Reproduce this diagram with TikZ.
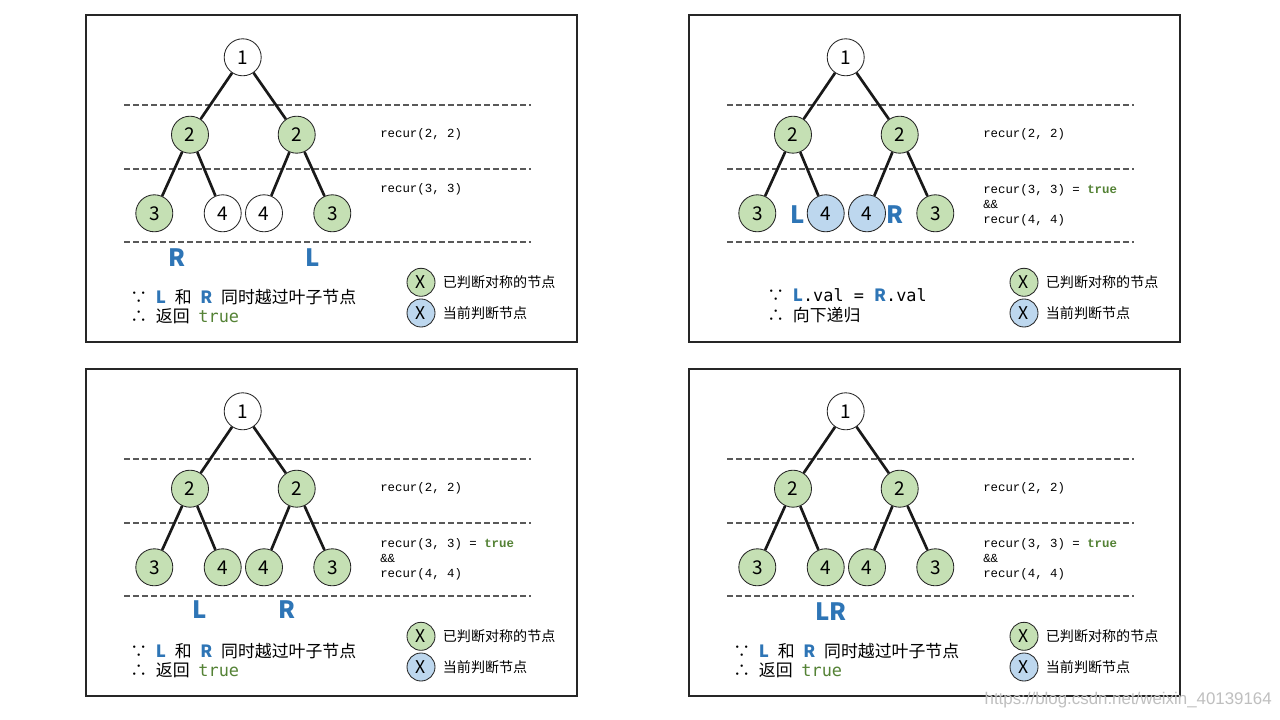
\documentclass[tikz,border=0pt]{standalone}
\usepackage{fontspec}
\usetikzlibrary{positioning}
\newfontfamily\cjk{Noto Sans CJK SC}
\newfontfamily\codefont{Liberation Mono}
\newfontfamily\valfont{DejaVu Sans Mono}
\newfontfamily\markfont{Liberation Sans}
\definecolor{donegreen}{HTML}{C5E0B4}
\definecolor{curblue}{HTML}{BDD7EE}
\definecolor{lrblue}{HTML}{2E75B6}
\definecolor{truegreen}{HTML}{548235}
\newcommand{\gap}{\hspace{0.52em}}

\tikzset{
  tnode/.style={circle,draw=black!85,line width=0.6pt,minimum size=0.925cm,
    inner sep=0pt,font=\cjk\fontsize{13.5}{16}\selectfont},
  keynode/.style={tnode,minimum size=0.7cm,font=\cjk\fontsize{12.5}{14}\selectfont},
  keytext/.style={inner sep=0pt,font=\cjk\fontsize{10}{12}\selectfont},
  branch/.style={line width=1.9pt,black!90},
  levelline/.style={line width=1.4pt,black!65,dash pattern=on 1.5mm off 0.75mm},
  code/.style={inner sep=0pt,anchor=west,align=left,
    font=\codefont\fontsize{8.8}{10.6}\selectfont},
  lrlabel/.style={text=lrblue,font=\cjk\bfseries\fontsize{17}{20}\selectfont},
  note/.style={inner sep=0pt,anchor=west,font=\cjk\fontsize{12}{14}\selectfont},
  panelbox/.style={line width=0.8pt,black!85}
}

% tree, frame, level lines and key of one panel
\newcommand{\symtree}[5]{%
\draw[panelbox] (86,15) rectangle (577,342);
\foreach \y in {105,169,242}
  \draw[levelline] (124,\y) -- (531,\y);
\node[tnode,fill=white] (#1root) at (242.7,57.3) {1};
\node[tnode,fill=donegreen] (#1l) at (190,134.7) {2};
\node[tnode,fill=donegreen] (#1r) at (296.7,134.7) {2};
\node[tnode,fill=#2] (#1ll) at (154.3,213.3) {3};
\node[tnode,fill=#3] (#1lr) at (222.7,213.3) {4};
\node[tnode,fill=#4] (#1rl) at (264,213.3) {4};
\node[tnode,fill=#5] (#1rr) at (332.3,213.3) {3};
\draw[branch] (#1root) -- (#1l);
\draw[branch] (#1root) -- (#1r);
\draw[branch] (#1l) -- (#1ll);
\draw[branch] (#1l) -- (#1lr);
\draw[branch] (#1r) -- (#1rl);
\draw[branch] (#1r) -- (#1rr);
\node[code] (#1rectwo) at (380,134.7) {recur(2, 2)};
\node[keynode,fill=donegreen] (#1keydone) at (421,282.3) {X};
\node[keynode,fill=curblue] (#1keycur) at (421,313) {X};
\node[keytext,anchor=west,right=0.18cm of #1keydone] (#1keydonetxt) {已判断对称的节点};
\node[keytext,anchor=west,right=0.18cm of #1keycur] (#1keycurtxt) {当前判断节点};
}
\newcommand{\recthree}[1]{%
\node[code] (#1recthree) at (380,205)
  {recur(3, 3) = {\bfseries\color{truegreen}true}\\\&\&\\recur(4, 4)};
}

\begin{document}
\begin{tikzpicture}[x=0.025cm,y=-0.025cm]
\useasboundingbox[fill=white] (0,0) rectangle (1280,720);

% both leaves passed
\begin{scope}
\symtree{a}{donegreen}{white}{white}{donegreen}
\node[code] (arecthree) at (380,189.7) {recur(3, 3)};
\node[lrlabel] (aR) at (176.7,257.3) {R};
\node[lrlabel] (aL) at (312.7,257.3) {L};
\node[note] (awhy) at (130,296.7)
  {∵\gap{\bfseries\color{lrblue}L}\gap 和\gap{\bfseries\color{lrblue}R}\gap 同时越过叶子节点};
\node[note] (aso) at (130,316.7) {∴\gap 返回\gap{\valfont\color{truegreen}true}};
\end{scope}

% compare the 4s
\begin{scope}[shift={(603,0)}]
\symtree{b}{donegreen}{curblue}{curblue}{donegreen}
\recthree{b}
\node[lrlabel] (bL) at (195,215) {L};
\node[lrlabel] (bR) at (291.7,215) {R};
\node[note] (bwhy) at (164,295)
  {∵\gap{\bfseries\color{lrblue}L}{\valfont .val = }{\bfseries\color{lrblue}R}{\valfont .val}};
\node[note] (bso) at (164,315) {∴\gap 向下递归};
\end{scope}

% below the 4s
\begin{scope}[shift={(0,354)}]
\symtree{c}{donegreen}{donegreen}{donegreen}{donegreen}
\recthree{c}
\node[lrlabel] (cL) at (200,256) {L};
\node[lrlabel] (cR) at (286.7,256) {R};
\node[note] (cwhy) at (130,296.7)
  {∵\gap{\bfseries\color{lrblue}L}\gap 和\gap{\bfseries\color{lrblue}R}\gap 同时越过叶子节点};
\node[note] (cso) at (130,316.7) {∴\gap 返回\gap{\valfont\color{truegreen}true}};
\end{scope}

% both at the end
\begin{scope}[shift={(603,354)}]
\symtree{d}{donegreen}{donegreen}{donegreen}{donegreen}
\recthree{d}
\node[lrlabel] (dLR) at (228.3,257.7) {LR};
\node[note] (dwhy) at (130,296.7)
  {∵\gap{\bfseries\color{lrblue}L}\gap 和\gap{\bfseries\color{lrblue}R}\gap 同时越过叶子节点};
\node[note] (dso) at (130,316.7) {∴\gap 返回\gap{\valfont\color{truegreen}true}};
\end{scope}

\node[anchor=east,inner sep=0pt,text=black!25,font=\markfont\fontsize{12}{14}\selectfont]
  (mark) at (1272,700) {https://blog.csdn.net/weixin\_40139164};
\end{tikzpicture}
\end{document}
